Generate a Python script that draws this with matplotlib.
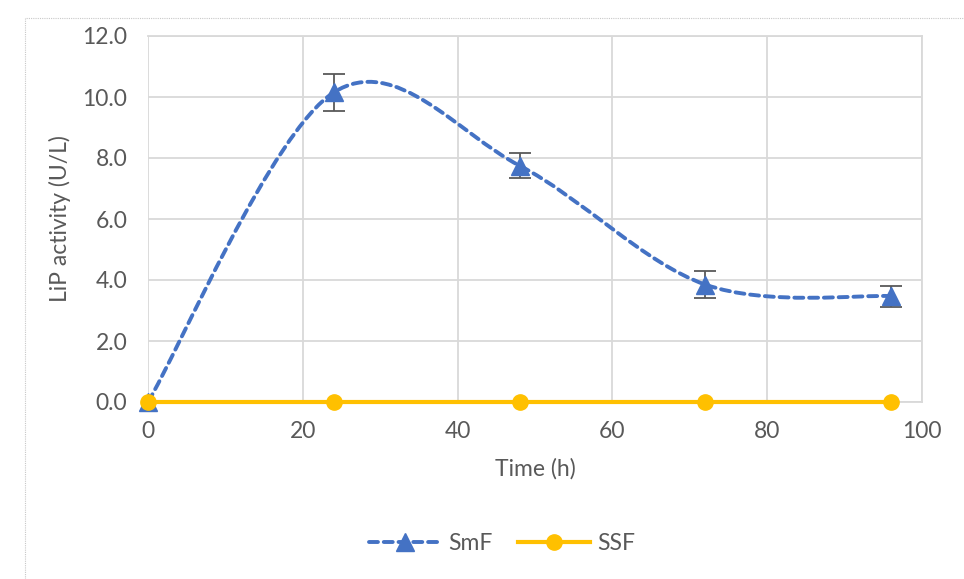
import numpy as np
import matplotlib.pyplot as plt
from matplotlib.path import Path
from matplotlib.patches import PathPatch, Rectangle
from matplotlib.lines import Line2D

plt.rcParams['font.family'] = ['Lato', 'DejaVu Sans']

# data
time_h = [0, 24, 48, 72, 96]
smf = [0.0, 10.15, 7.75, 3.85, 3.47]
smf_err = [0.0, 0.6, 0.42, 0.44, 0.34]
ssf = [0.0, 0.0, 0.0, 0.0, 0.0]

blue = '#4472C4'
gold = '#FFC000'
grid_c = '#D9D9D9'
text_c = '#595959'
fs = 16.5


# Excel-style smoothed line: cubic bezier segments through the points
def smooth_path(x, y):
    pts = np.column_stack([x, y]).astype(float)
    n = len(pts)
    verts = [pts[0]]
    codes = [Path.MOVETO]
    for i in range(n - 1):
        p0 = pts[max(i - 1, 0)]
        p1 = pts[i]
        p2 = pts[i + 1]
        p3 = pts[min(i + 2, n - 1)]
        c1 = p1 + (p2 - p0) / 6.0
        c2 = p2 - (p3 - p1) / 6.0
        verts += [c1, c2, p2]
        codes += [Path.CURVE4] * 3
    return Path(verts, codes)


fig = plt.figure(figsize=(9.64, 5.79), dpi=100)
ax = fig.add_axes([148 / 964, 1 - 402 / 579, (922 - 148) / 964, (402 - 36) / 579])

# outer chart border (dotted, light)
fig.patches.append(Rectangle((25 / 964, -0.01), 1.0, 1 - 18 / 579 + 0.01,
                             transform=fig.transFigure, fill=False,
                             edgecolor='#C8C8C8', linestyle=(0, (1, 1)), linewidth=0.8))

ax.set_xlim(0, 100)
ax.set_ylim(0, 12)
ax.set_xticks(np.arange(0, 101, 20))
ax.set_yticks(np.arange(0, 12.1, 2))
ax.set_yticklabels([f'{v:.1f}' for v in np.arange(0, 12.1, 2)])
ax.grid(True, color=grid_c, linewidth=1.3)
ax.set_axisbelow(True)
ax.spines['left'].set_visible(False)
for s in ['right', 'top', 'bottom']:
    ax.spines[s].set_color(grid_c)
    ax.spines[s].set_linewidth(1.3)
ax.tick_params(length=0, labelsize=fs, labelcolor=text_c)
ax.tick_params(axis='x', pad=14)
ax.tick_params(axis='y', pad=15)

# SmF smoothed dashed curve
dash = (0, (2.3, 1.5))
patch = PathPatch(smooth_path(time_h, smf), facecolor='none', edgecolor=blue,
                  linewidth=2.8, linestyle=dash, capstyle='round', clip_on=False)
ax.add_patch(patch)
ax.errorbar(time_h[1:], smf[1:], yerr=smf_err[1:], fmt='none', ecolor='#595959',
            elinewidth=1.3, capsize=8, capthick=1.3, zorder=3)
ax.plot(time_h, smf, linestyle='none', marker='^', markersize=13, color=blue,
        clip_on=False, zorder=4)

# SSF
ax.plot(time_h, ssf, color=gold, linewidth=3, marker='o', markersize=11,
        clip_on=False, zorder=5)

ax.set_xlabel('Time (h)', fontsize=fs, color=text_c, labelpad=11)
ax.set_ylabel('LiP activity (U/L)', fontsize=fs, color=text_c, labelpad=8)

handles = [Line2D([], [], color=blue, linewidth=2.8, linestyle=dash,
                  dash_capstyle='round', marker='^', markersize=13),
           Line2D([], [], color=gold, linewidth=3, marker='o', markersize=11)]
fig.legend(handles, ['SmF', 'SSF'], loc='center', bbox_to_anchor=(0.521, 1 - 544 / 579),
           ncol=2, frameon=False, fontsize=fs, labelcolor=text_c,
           handlelength=3.15, handletextpad=0.3, columnspacing=1.1)

fig.savefig('out.png', dpi=100)
